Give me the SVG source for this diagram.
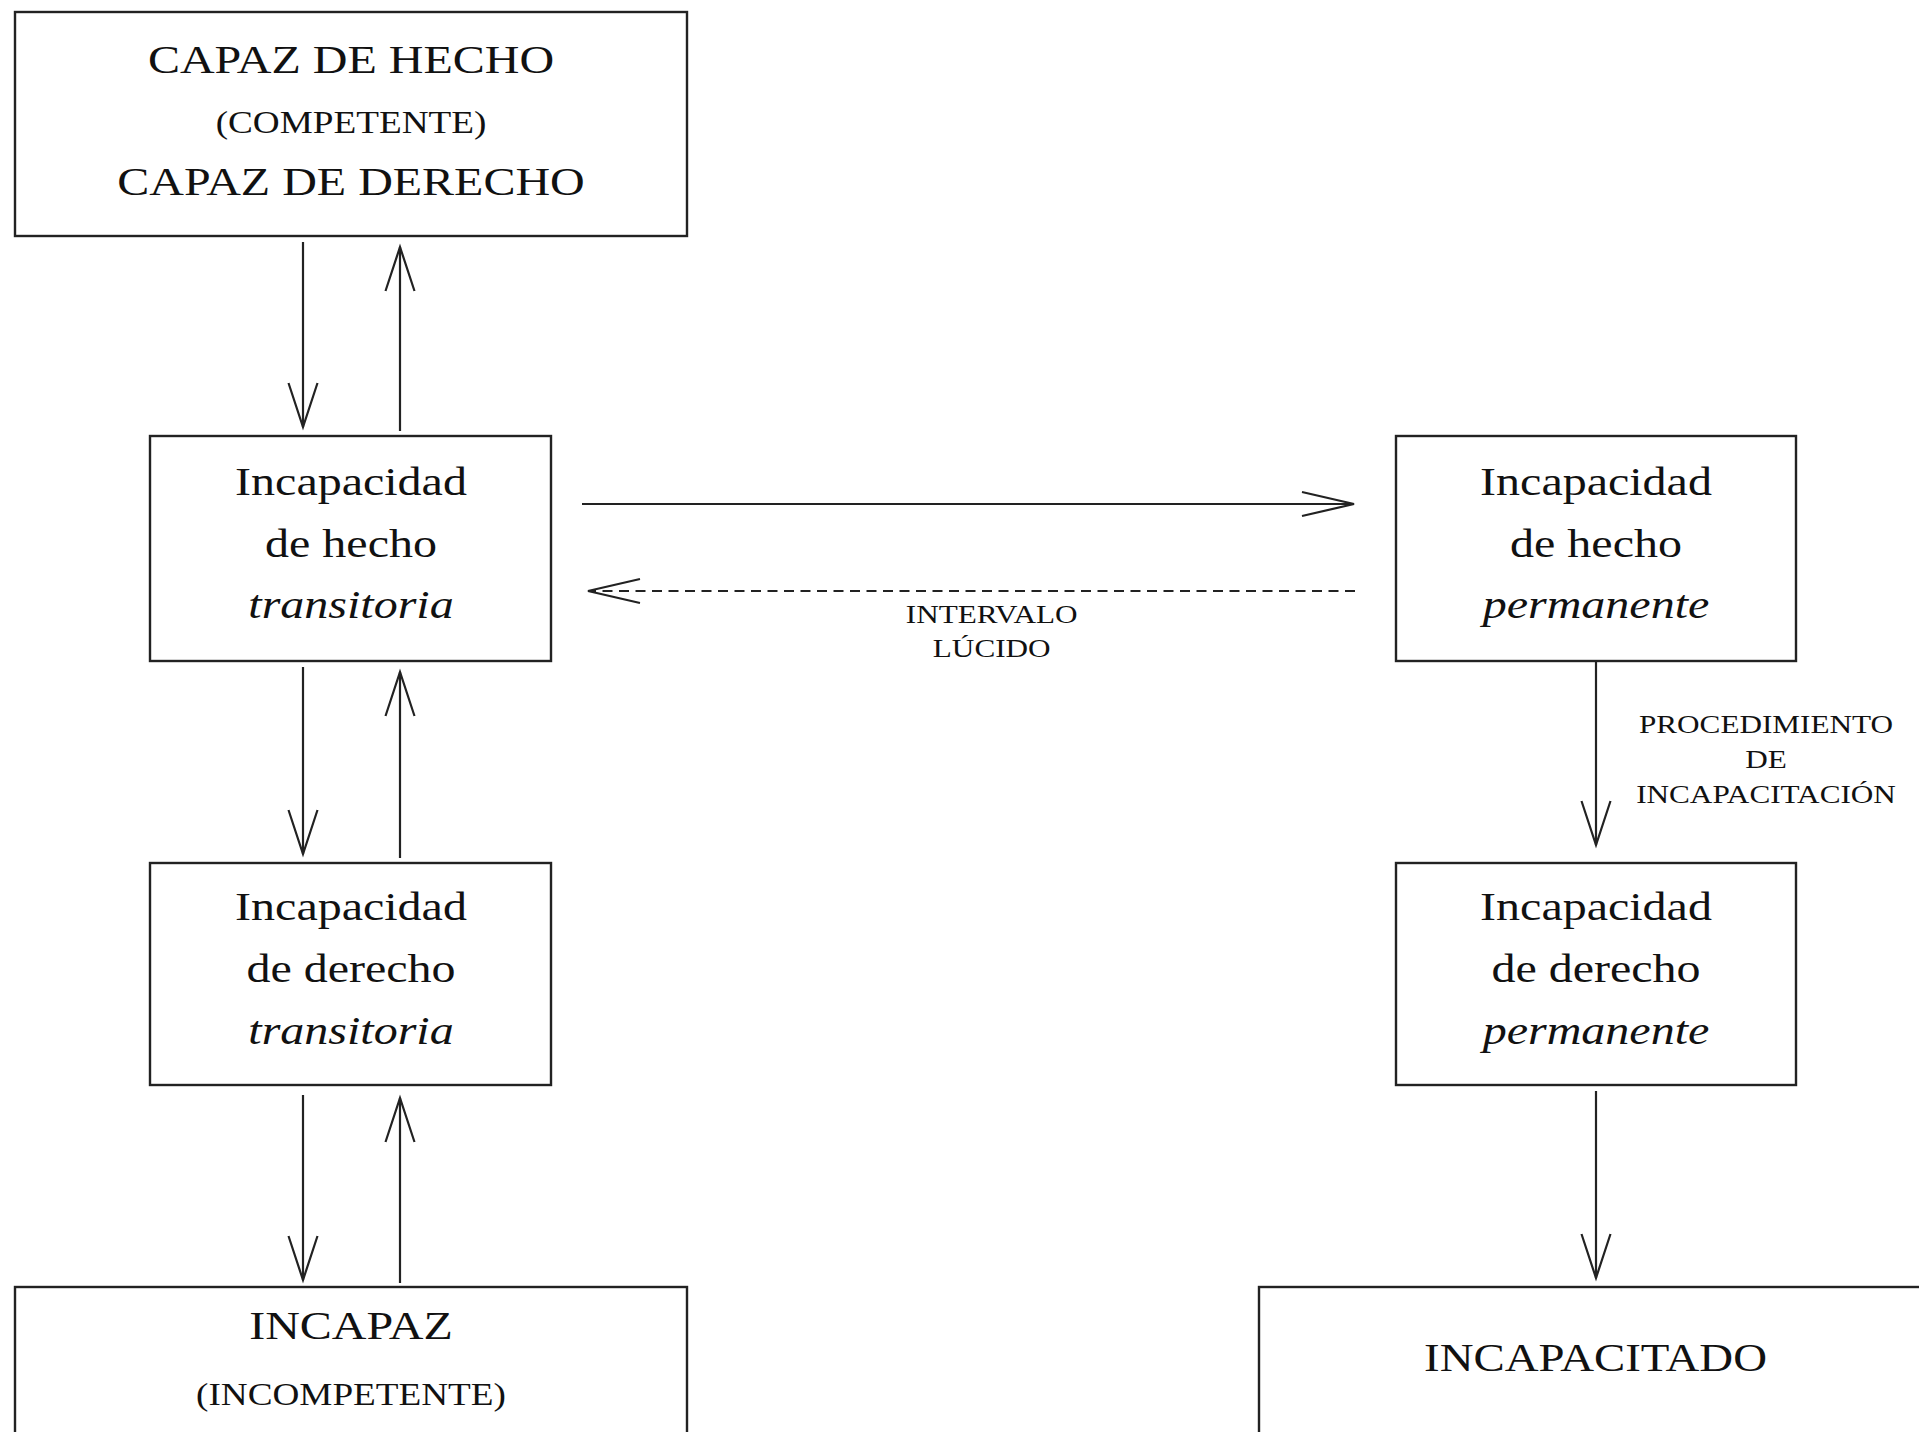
<svg xmlns="http://www.w3.org/2000/svg" width="1919" height="1432" viewBox="0 0 1919 1432">
  <style>
    .box { fill: #ffffff; stroke: #222222; stroke-width: 2.4; }
    .edge { fill: none; stroke: #222222; stroke-width: 2.2; }
    .dash { stroke-dasharray: 10 6.5; }
    .t { font-family: "Liberation Serif", "Times New Roman", serif; fill: #111111; text-anchor: middle; }
    .big { font-size: 40px; }
    .mid { font-size: 31px; }
    .small { font-size: 26px; }
    .it { font-style: italic; }
  </style>
  <defs>
    <marker id="mv" markerUnits="userSpaceOnUse" markerWidth="60" markerHeight="40" refX="0" refY="0" orient="auto" overflow="visible">
      <path d="M-44,-14.5 L0,0 L-44,14.5" fill="none" stroke="#222222" stroke-width="2.2"/>
    </marker>
    <marker id="mh" markerUnits="userSpaceOnUse" markerWidth="60" markerHeight="40" refX="0" refY="0" orient="auto" overflow="visible">
      <path d="M-52,-12 L0,0 L-52,12" fill="none" stroke="#222222" stroke-width="2.2"/>
    </marker>
  </defs>
  <rect x="0" y="0" width="1919" height="1432" fill="#ffffff"/>

  <g id="capaz">
    <rect class="box" x="15" y="12" width="672" height="224"/>
    <g transform="translate(351 0) scale(1.2 1)">
      <text class="t big" x="0" y="73">CAPAZ DE HECHO</text>
      <text class="t mid" x="0" y="133">(COMPETENTE)</text>
      <text class="t big" x="0" y="195">CAPAZ DE DERECHO</text>
    </g>
  </g>

  <g id="inc-hecho-transitoria">
    <rect class="box" x="150" y="436" width="401" height="225"/>
    <g transform="translate(351 0) scale(1.2 1)">
      <text class="t big" x="0" y="495">Incapacidad</text>
      <text class="t big" x="0" y="557">de hecho</text>
      <text class="t big it" x="0" y="618">transitoria</text>
    </g>
  </g>

  <g id="inc-derecho-transitoria">
    <rect class="box" x="150" y="863" width="401" height="222"/>
    <g transform="translate(351 0) scale(1.2 1)">
      <text class="t big" x="0" y="920">Incapacidad</text>
      <text class="t big" x="0" y="982">de derecho</text>
      <text class="t big it" x="0" y="1044">transitoria</text>
    </g>
  </g>

  <g id="incapaz">
    <rect class="box" x="15" y="1287" width="672" height="200"/>
    <g transform="translate(351 0) scale(1.2 1)">
      <text class="t big" x="0" y="1339">INCAPAZ</text>
      <text class="t mid" x="0" y="1405">(INCOMPETENTE)</text>
    </g>
  </g>

  <g id="inc-hecho-permanente">
    <rect class="box" x="1396" y="436" width="400" height="225"/>
    <g transform="translate(1596 0) scale(1.2 1)">
      <text class="t big" x="0" y="495">Incapacidad</text>
      <text class="t big" x="0" y="557">de hecho</text>
      <text class="t big it" x="0" y="618">permanente</text>
    </g>
  </g>

  <g id="inc-derecho-permanente">
    <rect class="box" x="1396" y="863" width="400" height="222"/>
    <g transform="translate(1596 0) scale(1.2 1)">
      <text class="t big" x="0" y="920">Incapacidad</text>
      <text class="t big" x="0" y="982">de derecho</text>
      <text class="t big it" x="0" y="1044">permanente</text>
    </g>
  </g>

  <g id="incapacitado">
    <rect class="box" x="1259" y="1287" width="720" height="200"/>
    <g transform="translate(1595.5 0) scale(1.2 1)">
      <text class="t big" style="font-size:39px" x="0" y="1371">INCAPACITADO</text>
    </g>
  </g>

  <g id="connectors">
    <line class="edge" x1="303" y1="242" x2="303" y2="427" marker-end="url(#mv)"/>
    <line class="edge" x1="400" y1="431" x2="400" y2="247" marker-end="url(#mv)"/>
    <line class="edge" x1="303" y1="667" x2="303" y2="854" marker-end="url(#mv)"/>
    <line class="edge" x1="400" y1="858" x2="400" y2="672" marker-end="url(#mv)"/>
    <line class="edge" x1="303" y1="1095" x2="303" y2="1280" marker-end="url(#mv)"/>
    <line class="edge" x1="400" y1="1283" x2="400" y2="1098" marker-end="url(#mv)"/>
    <line class="edge" x1="582" y1="504" x2="1354" y2="504" marker-end="url(#mh)"/>
    <line class="edge dash" x1="1355" y1="591" x2="588" y2="591" marker-end="url(#mh)"/>
    <line class="edge" x1="1596" y1="661" x2="1596" y2="845" marker-end="url(#mv)"/>
    <line class="edge" x1="1596" y1="1091" x2="1596" y2="1278" marker-end="url(#mv)"/>
    <g transform="translate(991.7 0) scale(1.2 1)">
      <text class="t small" x="0" y="623">INTERVALO</text>
      <text class="t small" x="0" y="657">LÚCIDO</text>
    </g>
    <g transform="translate(1766 0) scale(1.2 1)">
      <text class="t small" x="0" y="733">PROCEDIMIENTO</text>
      <text class="t small" x="0" y="768">DE</text>
      <text class="t small" x="0" y="803.5">INCAPACITACIÓN</text>
    </g>
  </g>
</svg>
